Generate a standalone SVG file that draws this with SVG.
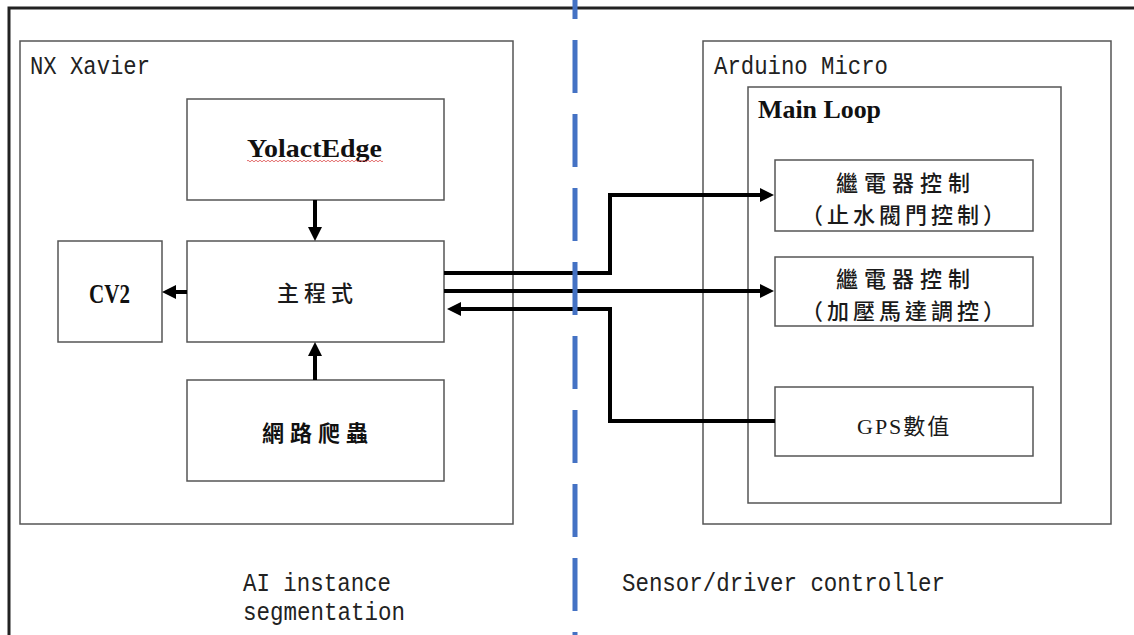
<svg xmlns="http://www.w3.org/2000/svg" width="1134" height="635" viewBox="0 0 1134 635">
<defs>
<style>
.box{fill:#fff;stroke:#555;stroke-width:1.5}
.conn{fill:none;stroke:#000;stroke-width:4}
.mono{font-family:"Liberation Mono",monospace;font-size:25px;fill:#222}
.serifb{font-family:"Liberation Serif",serif;font-weight:bold;fill:#111}
.cjk{font-family:"Noto Sans CJK TC",sans-serif;font-size:22px;font-weight:500;fill:#1a1a1a}
.cjkb{font-family:"Noto Sans CJK TC",sans-serif;font-size:22px;font-weight:bold;fill:#111}
.gps{font-family:"Liberation Serif","Noto Sans CJK TC",sans-serif;font-size:22px;fill:#1a1a1a}
</style>
<marker id="ah" viewBox="0 0 14 14" refX="4" refY="7" markerWidth="14" markerHeight="14" markerUnits="userSpaceOnUse" orient="auto">
<path d="M0,0 L14,7 L0,14 z" fill="#000"/>
</marker>
</defs>
<rect width="1134" height="635" fill="#fff"/>
<path d="M9,635 V8 H1134" fill="none" stroke="#222" stroke-width="3"/>

<g id="nx-xavier">
<rect class="box" x="20" y="41" width="493" height="483"/>
<text class="mono" x="30" y="74" textLength="120" lengthAdjust="spacingAndGlyphs">NX Xavier</text>
</g>
<g id="arduino-micro">
<rect class="box" x="703" y="41" width="408" height="483"/>
<text class="mono" x="714" y="74" textLength="174" lengthAdjust="spacingAndGlyphs">Arduino Micro</text>
</g>
<g id="main-loop">
<rect class="box" x="748" y="87" width="313" height="416"/>
<text class="serifb" x="758" y="118" font-size="26" textLength="123" lengthAdjust="spacingAndGlyphs">Main Loop</text>
</g>

<g id="yolactedge">
<rect class="box" x="187" y="99" width="257" height="101"/>
<text class="serifb" x="247" y="157" font-size="26" textLength="135" lengthAdjust="spacingAndGlyphs">YolactEdge</text>
<path d="M247,161 q1,-1.6 2,0 t2,0 t2,0 t2,0 t2,0 t2,0 t2,0 t2,0 t2,0 t2,0 t2,0 t2,0 t2,0 t2,0 t2,0 t2,0 t2,0 t2,0 t2,0 t2,0 t2,0 t2,0 t2,0 t2,0 t2,0 t2,0 t2,0 t2,0 t2,0 t2,0 t2,0 t2,0 t2,0 t2,0 t2,0 t2,0 t2,0 t2,0 t2,0 t2,0 t2,0 t2,0 t2,0 t2,0 t2,0 t2,0 t2,0 t2,0 t2,0 t2,0 t2,0 t2,0 t2,0 t2,0 t2,0 t2,0 t2,0 t2,0 t2,0 t2,0 t2,0 t2,0 t2,0 t2,0 t2,0 t2,0 t2,0 t2,0" fill="none" stroke="#e06060" stroke-width="0.9"/>
</g>
<g id="main-program">
<rect class="box" x="187" y="241" width="257" height="101"/>
<text class="cjk" x="277" y="301" letter-spacing="5">主程式</text>
</g>
<g id="cv2">
<rect class="box" x="58" y="241" width="104" height="101"/>
<text class="serifb" x="89" y="303" font-size="28" textLength="41" lengthAdjust="spacingAndGlyphs">CV2</text>
</g>
<g id="web-crawler">
<rect class="box" x="187" y="380" width="257" height="101"/>
<text class="cjkb" x="262" y="441" letter-spacing="6">網路爬蟲</text>
</g>

<g id="relay-valve">
<rect class="box" x="775" y="160" width="258" height="71"/>
<text class="cjk" x="836" y="191" letter-spacing="6">繼電器控制</text>
<text class="cjk" x="801" y="223" letter-spacing="4">（止水閥門控制）</text>
</g>
<g id="relay-pump">
<rect class="box" x="775" y="257" width="258" height="69"/>
<text class="cjk" x="836" y="287" letter-spacing="6">繼電器控制</text>
<text class="cjk" x="801" y="319" letter-spacing="4">（加壓馬達調控）</text>
</g>
<g id="gps">
<rect class="box" x="775" y="387" width="258" height="69"/>
<text class="gps" x="857" y="434" letter-spacing="2">GPS數值</text>
</g>

<g id="connectors">
<path class="conn" d="M315,200 V231" marker-end="url(#ah)"/>
<path class="conn" d="M315,380 V352" marker-end="url(#ah)"/>
<path class="conn" d="M187,292 H172" marker-end="url(#ah)"/>
<path class="conn" d="M444,273 H610 V195 H764" marker-end="url(#ah)"/>
<path class="conn" d="M444,291 H764" marker-end="url(#ah)"/>
<path class="conn" d="M775,421 H610 V309 H457" marker-end="url(#ah)"/>
</g>

<line id="divider" x1="575" y1="-34" x2="575" y2="635" stroke="#4472C4" stroke-width="5" stroke-dasharray="53 21"/>

<g id="captions">
<text class="mono" x="243" y="591" textLength="148" lengthAdjust="spacingAndGlyphs">AI instance</text>
<text class="mono" x="243" y="620" textLength="162" lengthAdjust="spacingAndGlyphs">segmentation</text>
<text class="mono" x="622" y="591" textLength="323" lengthAdjust="spacingAndGlyphs">Sensor/driver controller</text>
</g>
</svg>
